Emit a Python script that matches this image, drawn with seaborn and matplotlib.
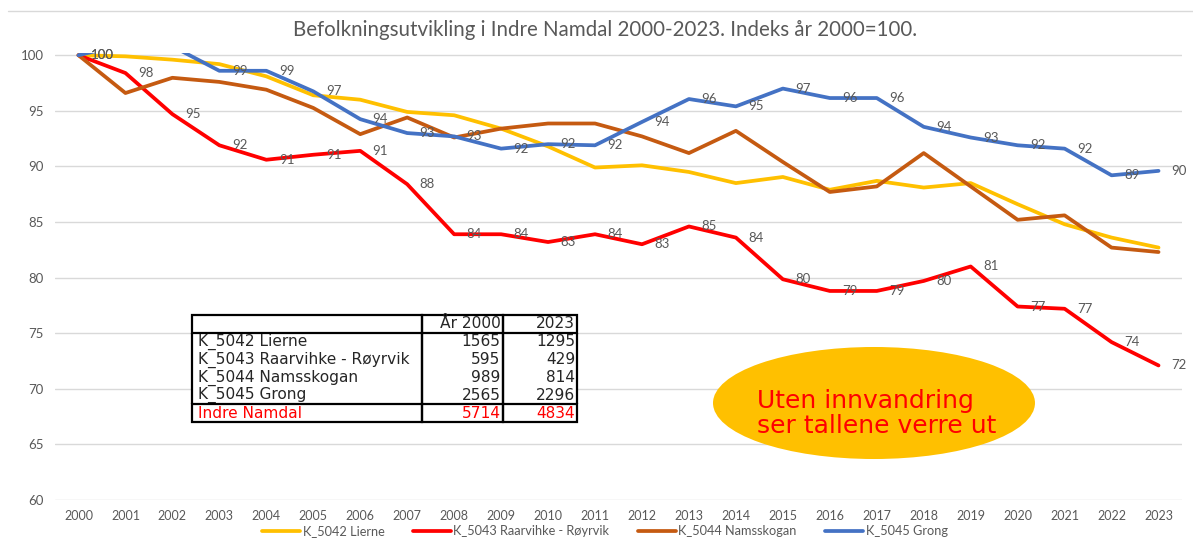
import matplotlib
matplotlib.use("Agg")
import matplotlib.pyplot as plt
import seaborn as sns
import pandas as pd
from matplotlib.patches import Ellipse, Rectangle
from matplotlib.lines import Line2D

# index values (2000 = 100)
years = list(range(2000, 2024))
lierne = [100, 99.9, 99.6, 99.2, 98.1, 96.4, 96.0, 94.9, 94.6, 93.4, 91.8, 89.9,
          90.1, 89.5, 88.5, 89.05, 87.9, 88.7, 88.1, 88.5, 86.6, 84.8, 83.6, 82.7]
royrvik = [100, 98.4, 94.7, 91.9, 90.6, 91.05, 91.4, 88.4, 83.9, 83.9, 83.2, 83.9,
           83.0, 84.6, 83.6, 79.85, 78.8, 78.8, 79.7, 81.0, 77.4, 77.2, 74.2, 72.1]
namsskogan = [100, 96.6, 97.97, 97.6, 96.9, 95.26, 92.9, 94.4, 92.6, 93.4, 93.86, 93.86,
              92.7, 91.2, 93.2, 90.4, 87.7, 88.2, 91.2, 88.2, 85.2, 85.6, 82.7, 82.3]
grong = [100, 101.0, 100.8, 98.6, 98.6, 96.75, 94.25, 93.0, 92.7, 91.6, 92.0, 91.9,
         94.0, 96.06, 95.4, 97.0, 96.15, 96.15, 93.56, 92.6, 91.9, 91.6, 89.2, 89.6]

series_names = ["K_5042 Lierne", "K_5043 Raarvihke - Røyrvik", "K_5044 Namsskogan", "K_5045 Grong"]
colors = ["#FFC000", "#FF0000", "#C55A11", "#4472C4"]
labelled = ["K_5043 Raarvihke - Røyrvik", "K_5045 Grong"]

# inset table
table_rows = ["K_5042 Lierne", "K_5043 Raarvihke - Røyrvik", "K_5044 Namsskogan", "K_5045 Grong", "Indre Namdal"]
pop_2000 = [1565, 595, 989, 2565, 5714]
pop_2023 = [1295, 429, 814, 2296, 4834]
table_header = ["", "År 2000", "2023"]

title = "Befolkningsutvikling i Indre Namdal 2000-2023. Indeks år 2000=100."
note = "Uten innvandring\nser tallene verre ut"

df = pd.concat([
    pd.DataFrame({"year": years, "index": vals, "kommune": name})
    for name, vals in zip(series_names, [lierne, royrvik, namsskogan, grong])
])

sns.set_style("white")
plt.rcParams['font.family'] = ['Lato', 'DejaVu Sans']
grey = "#595959"

fig = plt.figure(figsize=(11.93, 5.38), dpi=100)
ax = fig.add_axes([55 / 1193, 1 - 500 / 538, 1127 / 1193, 447 / 538])

sns.lineplot(data=df, x="year", y="index", hue="kommune", hue_order=series_names,
             palette=colors, linewidth=2.7, ax=ax, legend=True)

# data labels for Røyrvik and Grong
for name in labelled:
    sub = df[df["kommune"] == name]
    for x, y in zip(sub["year"], sub["index"]):
        if y > 100:
            continue
        ax.annotate(f"{y:.0f}", (x, y), xytext=(9, 0), textcoords="offset points",
                    ha="left", va="center", fontsize=9.5, color=grey)

ax.set_xlim(1999.5, 2023.5)
ax.set_ylim(60, 100.2)
ax.set_yticks(range(60, 101, 5))
ax.set_xticks(years, labels=[str(y) for y in years])
ax.set_xlabel("")
ax.set_ylabel("")
ax.tick_params(axis="y", length=0, pad=8, labelsize=9.5, labelcolor=grey)
ax.tick_params(axis="x", length=0, pad=7, labelsize=9, labelcolor=grey)
ax.yaxis.grid(True, color="#D9D9D9", linewidth=1)
ax.xaxis.grid(False)
ax.set_axisbelow(True)
sns.despine(ax=ax, left=True, bottom=True)

# legend at the bottom
handles, labels = ax.get_legend_handles_labels()
ax.get_legend().remove()
leg = fig.legend(handles, labels, loc="center", bbox_to_anchor=(0.507, 1 - 531 / 538),
                 ncol=4, frameon=False, fontsize=9.2, handlelength=3, handletextpad=0.2,
                 columnspacing=2.2)
for t in leg.get_texts():
    t.set_color(grey)

fig.text(0.507, 1 - 30 / 538, title, ha="center", va="center", fontsize=14.8, color=grey)
fig.add_artist(Line2D([8 / 1193, 1], [1 - 11 / 538] * 2, color="#D9D9D9", lw=1,
                      transform=fig.transFigure))

# table with population numbers
tb = [0.1216, 0.1745, 0.3416, 0.2394]
ax.add_patch(Rectangle((tb[0], tb[1]), tb[2], tb[3], transform=ax.transAxes,
                       facecolor="white", edgecolor="none", zorder=4))
cell_text = [table_header] + [[n, str(a), str(b)] for n, a, b in zip(table_rows, pop_2000, pop_2023)]
tbl = ax.table(cellText=cell_text, colWidths=[0.597, 0.210, 0.193], bbox=tb,
               cellLoc="right", zorder=5)
tbl.auto_set_font_size(False)
tbl.set_fontsize(11.1)
nrows = len(cell_text)
for (r, c), cell in tbl.get_celld().items():
    cell.set_linewidth(1.6)
    cell.set_edgecolor("black")
    cell.set_facecolor("none")
    cell.PAD = 0.025
    cell.get_text().set_fontfamily("DejaVu Sans")
    if c == 0:
        cell.get_text().set_ha("left")
    if r == 0 or r == nrows - 1:
        cell.visible_edges = "closed"
    else:
        cell.visible_edges = "LR"
    if r == nrows - 1:
        cell.get_text().set_color("#FF0000")

# yellow note
ax.add_patch(Ellipse((0.7267, 0.2170), 0.2857, 0.2506, transform=ax.transAxes,
                     facecolor="#FFC000", edgecolor="none", zorder=4))
ax.text(0.6229, 0.1935, note, transform=ax.transAxes, ha="left", va="center",
        fontsize=18, color="#FF0000", linespacing=1.05, zorder=5,
        fontfamily="DejaVu Sans")

fig.savefig("out.png", dpi=100)
